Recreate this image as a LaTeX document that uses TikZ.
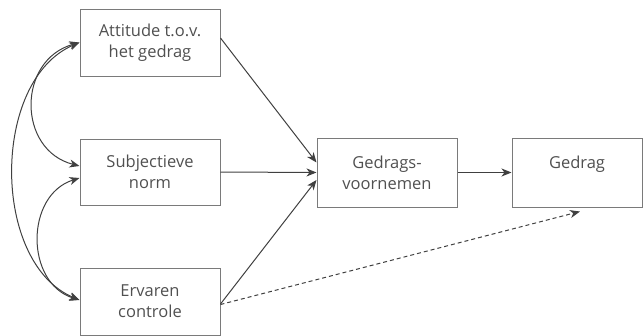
\documentclass[tikz,border=0pt]{standalone}
\usepackage{fontspec}
\setmainfont{Open Sans}
\usetikzlibrary{arrows.meta}
\definecolor{linec}{HTML}{404040}
\definecolor{boxc}{HTML}{7A7A7A}
\definecolor{textc}{HTML}{505050}
\begin{document}
\begin{tikzpicture}[x=1pt,y=-1pt,
  box/.style={draw=boxc,line width=1pt,rectangle,inner sep=0pt,align=center,
    text=textc,font=\fontsize{16.5}{21}\selectfont,minimum width=140pt},
  arr/.style={draw=linec,line width=1pt,-{Stealth[length=10pt,width=8pt,inset=3pt]}},
  darr/.style={draw=linec,line width=1pt,{Stealth[length=10pt,width=8pt,inset=3pt]}-{Stealth[length=10pt,width=8pt,inset=3pt]}}]
\useasboundingbox (0,0) rectangle (643,335);
\node[box,minimum height=67pt] (att) at (150,42.5) {Attitude t.o.v.\\het gedrag};
\node[box,minimum height=66pt] (sub) at (150,172) {Subjectieve\\norm};
\node[box,minimum height=67pt] (erv) at (150,301.5) {Ervaren\\controle};
\node[box,minimum height=69pt] (gv) at (387,172.5) {Gedrags-\\voornemen};
\node[box,minimum height=69pt,minimum width=130pt] (ged) at (577,172.5) {Gedrag\\\mbox{}};
\coordinate (dend) at ([xshift=3pt,yshift=-4pt]ged.south);
\draw[arr] ([yshift=4.5pt]att.east) -- ([yshift=10pt]gv.west);
\draw[arr] (sub.east) -- (gv.west);
\draw[arr] ([yshift=-2.5pt]erv.east) -- ([yshift=-7.5pt]gv.west);
\draw[arr] (gv.east) -- (ged.west);
\draw[arr,dashed,dash pattern=on 4pt off 3pt] ([yshift=-3pt]erv.east) -- (dend);
\draw[darr] (att.west) .. controls (-9,80) and (-9,263) .. ([yshift=1.5pt]erv.west);
\draw[darr] (att.west) .. controls (17,60) and (17,150) .. ([yshift=6pt]sub.west);
\draw[darr] ([yshift=-6pt]sub.west) .. controls (25,195) and (25,283) .. ([yshift=1.5pt]erv.west);
\end{tikzpicture}
\end{document}
